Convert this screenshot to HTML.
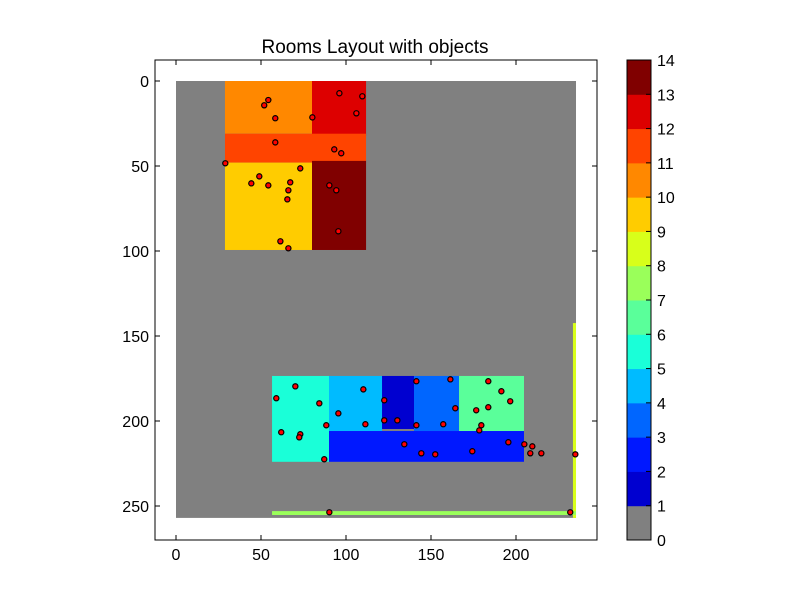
<!DOCTYPE html>
<html><head><meta charset="utf-8"><style>
body{margin:0;background:#fff;width:800px;height:600px;overflow:hidden;font-family:"Liberation Sans",sans-serif}
</style></head><body>
<svg id="chart" width="800" height="600" xmlns="http://www.w3.org/2000/svg" font-family="Liberation Sans, sans-serif">
<rect width="800" height="600" fill="#fff"/>
<text x="375" y="53" font-size="19" text-anchor="middle">Rooms Layout with objects</text>
<g id="plot"></g>
<g id="cbar"></g>
</svg>
<script>
const cmapColors = ["#808080","#0000d0","#0018ff","#0066ff","#00bbff","#1affd8","#5aff9a","#9aff5a","#d8ff1a","#ffcc00","#ff8800","#ff4400","#dd0000","#800000"];
const roomX0 = [0, 28.8, 80, 28.8, 28.8, 80, 56.5, 90, 121.2, 140, 166.5, 90, 233.5, 56.5];
const roomX1 = [235.3, 80, 111.8, 111.8, 80, 111.8, 90, 121.2, 140, 166.5, 204.7, 204.7, 235.3, 235.3];
const roomY0 = [0, 0, 0, 31, 48, 47, 173.5, 173.5, 173.5, 173.5, 173.5, 205.9, 142.4, 253];
const roomY1 = [257, 31, 32.4, 48, 99.4, 99.4, 224, 205.9, 204.7, 205.9, 205.9, 224, 257, 255.3];
const roomVal = [0, 10, 12, 11, 9, 13, 5, 4, 1, 3, 6, 2, 8, 7];
const ptX = [54.3,51.9,58.4,80.2,96.1,109.6,106.1,58.4,93.1,97.2,29.0,73.1,49.0,44.3,54.3,67.2,66.1,65.5,90.2,94.3,95.5,61.4,66.1,
70.2,59.0,84.3,61.9,73.1,72.5,88.4,87.2,110.2,95.5,111.4,122.5,122.5,130.2,141.4,161.4,164.3,141.4,157.2,183.7,191.4,196.6,176.6,183.7,179.6,178.4,134.3,144.3,152.5,174.3,195.5,204.9,209.6,208.4,214.9,234.9,90.2,231.9];
const ptY = [11.2,14.3,21.9,21.4,7.2,9.0,19.0,36.1,40.2,42.5,48.4,51.4,56.1,60.2,61.4,59.6,64.3,69.6,61.4,64.3,88.4,94.3,98.4,
179.6,186.6,189.6,206.6,207.8,209.6,202.5,222.5,181.4,195.5,201.9,187.8,199.6,199.6,176.6,175.5,192.5,202.5,201.9,176.6,182.5,188.4,193.7,191.9,202.5,205.5,213.7,219.0,219.6,217.8,212.5,213.7,214.9,219.0,219.0,219.6,253.7,253.7];
const xTicks = [0,50,100,150,200];
const yTicks = [0,50,100,150,200,250];
const cTicks = [0,1,2,3,4,5,6,7,8,9,10,11,12,13,14];

const NS="http://www.w3.org/2000/svg";
const AX={l:155,r:597,t:60,b:540};
const sx=v=>176+1.7*v, sy=v=>81+1.7*v;
function mk(tag,attrs,parent){const e=document.createElementNS(NS,tag);for(const k in attrs)e.setAttribute(k,attrs[k]);parent.appendChild(e);return e;}
const plot=document.getElementById('plot');
for(let i=0;i<roomVal.length;i++){
  const r=mk('rect',{x:sx(roomX0[i]),y:sy(roomY0[i]),width:sx(roomX1[i])-sx(roomX0[i]),height:sy(roomY1[i])-sy(roomY0[i]),fill:cmapColors[roomVal[i]]},plot);
  
  
}
for(let i=0;i<ptX.length;i++){
  const c=mk('circle',{cx:sx(ptX[i]),cy:sy(ptY[i]),r:2.6,fill:'#ff0000',stroke:'#000','stroke-width':1.2},plot);
  
  
}
const frame=mk('rect',{x:AX.l,y:AX.t,width:AX.r-AX.l,height:AX.b-AX.t,fill:'none',stroke:'#000','stroke-width':1},plot);


xTicks.forEach(v=>{const x=sx(v);
  mk('line',{x1:x,x2:x,y1:AX.b,y2:AX.b-5,stroke:'#000'},plot);
  mk('line',{x1:x,x2:x,y1:AX.t,y2:AX.t+5,stroke:'#000'},plot);
  const t=mk('text',{x:x,y:AX.b+20,'font-size':16,'text-anchor':'middle'},plot);t.textContent=v;
  
  
});
yTicks.forEach(v=>{const y=sy(v);
  mk('line',{x1:AX.l,x2:AX.l+5,y1:y,y2:y,stroke:'#000'},plot);
  mk('line',{x1:AX.r,x2:AX.r-5,y1:y,y2:y,stroke:'#000'},plot);
  const t=mk('text',{x:AX.l-6,y:y+6,'font-size':16,'text-anchor':'end'},plot);t.textContent=v;
  
  
});
const cb=document.getElementById('cbar');
const CB={l:627,r:651,t:60,b:540};
const cy=v=>CB.b-(CB.b-CB.t)*v/14;
for(let i=0;i<14;i++){
  const r=mk('rect',{x:CB.l,y:cy(i+1),width:CB.r-CB.l,height:cy(i)-cy(i+1)+0.5,fill:cmapColors[i]},cb);
  
  
}
const cf=mk('rect',{x:CB.l,y:CB.t,width:CB.r-CB.l,height:CB.b-CB.t,fill:'none',stroke:'#000'},cb);


cTicks.forEach(v=>{const y=cy(v);
  mk('line',{x1:CB.r-5,x2:CB.r,y1:y,y2:y,stroke:'#000'},cb);
  const t=mk('text',{x:657,y:y+6,'font-size':16},cb);t.textContent=v;
  
  
});
</script>
</body></html>
